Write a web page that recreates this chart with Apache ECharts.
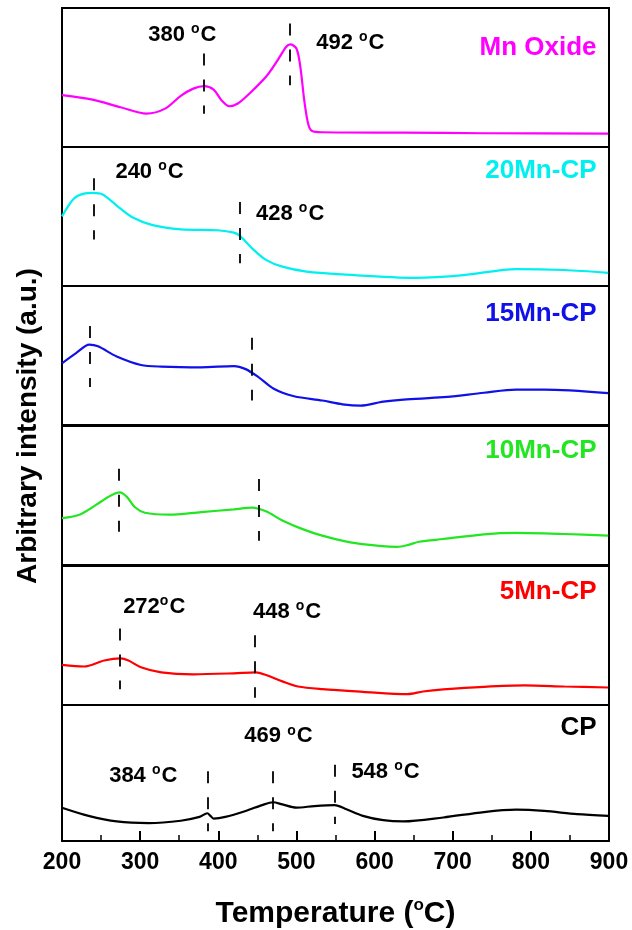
<!DOCTYPE html>
<html>
<head>
<meta charset="utf-8">
<script src="https://cdn.jsdelivr.net/npm/echarts/dist/echarts.min.js"></script>
<style>
html,body{margin:0;padding:0;background:#fff;}
#chart{width:632px;height:930px;}
</style>
</head>
<body>
<div id="chart"></div>
<script>
// ---- data (temperature in °C, intensity in arbitrary units 0-100 per panel) ----
const panelNames = ['Mn Oxide', '20Mn-CP', '15Mn-CP', '10Mn-CP', '5Mn-CP', 'CP'];
const panelColors = ['#ff00ff', '#00f0f0', '#1010e8', '#22e622', '#ff0000', '#000000'];

const tMnOxide = [200,239,275,308,332,352,368,382,394,404,414,425,440,461,476,487,492,500,505,510,515,520,533,636,740,899];
const vMnOxide = [37.3,34.1,28.6,24.0,27.6,36.8,42,43.8,41.3,33.7,29.3,31.3,38.5,50.5,62.5,72.1,73.8,70.9,57.7,33.7,16.8,11.5,10.6,10.3,9.9,9.6];

const t20Mn = [200,215,228,240,252,270,290,316,352,399,420,428,445,461,482,513,559,652,714,781,843,899];
const v20Mn = [50.1,62.8,66.5,67,65.8,57.9,49.4,43.8,40.8,40.1,38.4,35.9,26.2,18.8,13.9,10.3,8.3,5.9,7.8,12.2,11.5,9.5];

const t15Mn = [200,218,235,246,270,301,327,378,420,435,451,471,497,533,559,582,611,637,688,740,781,817,899];
const v15Mn = [44.4,51.7,57.8,56.6,49.3,43.2,42,41.5,42.4,40.2,34.6,26.1,20.7,17.6,14.9,13.9,16.8,18.3,20,23.2,25.4,25.4,22.9];

const t10Mn = [200,223,244,262,274,283,293,306,337,378,420,443,461,482,507,533,569,606,629,642,657,688,740,781,843,899];
const v10Mn = [33.7,36.4,43.4,49.8,52.2,49,41.7,37.6,36.2,38.1,40,41.3,38.6,32,26,21.1,16.3,13.8,13.1,14.3,16.7,18.7,22.1,23.1,22.3,21.1];

const t5Mn = [200,228,254,275,285,301,327,368,420,448,461,482,502,533,585,642,662,688,740,792,843,899];
const v5Mn = [28.9,27.7,32,33.5,32,27.2,23.5,22.1,22.8,23.5,21.6,17,13.3,11.4,9.5,7.8,9.7,11.2,13.1,14.1,13.3,12.6];

const tCP = [200,234,270,311,352,376,386,390,394,409,435,456,470,482,500,523,549,564,585,611,637,688,740,781,817,859,899];
const vCP = [24.5,18.5,14.4,13.2,14.9,17.7,20.4,18.5,16.5,17.7,22.1,26.4,28.5,26.9,24.5,25.7,26.4,23.3,18.5,15.3,14.4,17.3,21.3,23,22.1,19.7,18.5];

// dashed peak markers per panel: [temperature, top, bottom]
const peakMnOxide = [[381, 67.3, 24], [491, 88.9, 44.5]];
const peak20Mn = [[240, 77.5, 33.5], [428, 60.4, 16.4]];
const peak15Mn = [[236, 71.2, 27.3], [443, 62.7, 17.6]];
const peak10Mn = [[273, 69.2, 24], [452, 61.9, 17.5]];
const peak5Mn = [[274, 55.1, 11.4], [447, 50.2, 5.3]];
const peakCP = [[386, 51.3, 7.2], [470, 51.3, 7.2], [549, 56.1, 12.5]];

// peak annotations per panel: [x, y, number text, space before degree]
const noteMnOxide = [[354, 80.6, '380', true], [569, 74.8, '492', true]];
const note20Mn = [[312, 82, '240', true], [492, 51.8, '428', true]];
const note15Mn = [];
const note10Mn = [];
const note5Mn = [[318, 70.5, '272', false], [488, 66.9, '448', true]];
const noteCP = [[477, 77, '469', true], [304, 48.2, '384', true], [614, 51.1, '548', true]];

// panel name label anchor (right aligned)
const nameX = 884;
const nameY = [71.2, 82.7, 79.9, 82, 81.3, 83.5];

const xTicks = [200, 300, 400, 500, 600, 700, 800, 900];

// ---- build ----
const FONT = "'Liberation Sans', Arial, sans-serif";
const temps = [tMnOxide, t20Mn, t15Mn, t10Mn, t5Mn, tCP];
const vals = [vMnOxide, v20Mn, v15Mn, v10Mn, v5Mn, vCP];
const peaks = [peakMnOxide, peak20Mn, peak15Mn, peak10Mn, peak5Mn, peakCP];
const notes = [noteMnOxide, note20Mn, note15Mn, note10Mn, note5Mn, noteCP];

const tops = [8, 147, 286, 426, 566, 705];
const panelH = 139;

const grids = [], xAxes = [], yAxes = [], series = [];
const richDeg = {
  a: {fontSize: 22, fontWeight: 'bold', color: '#000', fontFamily: FONT, lineHeight: 25},
  s: {fontSize: 14, fontWeight: 'bold', color: '#000', fontFamily: FONT, verticalAlign: 'top', padding: [0, 1, 0, 0]}
};

for (let i = 0; i < 6; i++) {
  const last = i === 5;
  grids.push({left: 62, right: 23, top: tops[i], height: panelH, show: true,
    borderColor: '#000', borderWidth: 2, backgroundColor: 'transparent'});
  xAxes.push({
    type: 'value', gridIndex: i, min: 200, max: 900, interval: 100,
    show: last,
    axisLine: {show: true, lineStyle: {color: '#000', width: 2}},
    axisTick: {show: true, inside: true, length: 10, lineStyle: {color: '#000', width: 2}},
    minorTick: {show: true, splitNumber: 2, length: 6, lineStyle: {color: '#000', width: 1.5}},
    splitLine: {show: false},
    axisLabel: {show: true, margin: 10, fontSize: 23, fontWeight: 'bold', color: '#000', fontFamily: FONT,
      formatter: v => xTicks.indexOf(v) >= 0 ? String(v) : ''},
    name: last ? '{a|Temperature (}{s|o}{a|C)}' : '',
    nameLocation: 'middle', nameGap: 56,
    nameTextStyle: {rich: {
      a: {fontSize: 30, fontWeight: 'bold', color: '#000', fontFamily: FONT, lineHeight: 34},
      s: {fontSize: 17, fontWeight: 'bold', color: '#000', fontFamily: FONT, verticalAlign: 'top'}
    }}
  });
  yAxes.push({type: 'value', gridIndex: i, min: 0, max: 100, show: false});

  const data = temps[i].map((t, k) => [t, vals[i][k]]);
  const mlData = peaks[i].map(p => [{coord: [p[0], p[1]]}, {coord: [p[0], p[2]]}]);
  const mpData = notes[i].map(n => ({
    coord: [n[0], n[1]],
    label: {formatter: '{a|' + n[2] + (n[3] ? ' ' : '') + '}{s|o}{a|C}'}
  }));
  mpData.push({
    coord: [nameX, nameY[i]],
    label: {formatter: panelNames[i], align: 'right', fontSize: 26, fontWeight: 'bold',
      color: panelColors[i], fontFamily: FONT, rich: {}}
  });

  series.push({
    type: 'line', xAxisIndex: i, yAxisIndex: i, data: data,
    showSymbol: false, smooth: 0.3,
    lineStyle: {color: panelColors[i], width: 2.2},
    itemStyle: {color: panelColors[i]},
    animation: false, silent: true,
    markLine: {
      silent: true, animation: false, symbol: ['none', 'none'],
      label: {show: false},
      lineStyle: {color: '#000', width: 1.8, type: [12, 14]},
      emphasis: {disabled: true},
      data: mlData
    },
    markPoint: {
      silent: true, animation: false, symbol: 'circle', symbolSize: 1,
      itemStyle: {color: 'rgba(0,0,0,0)'},
      label: {show: true, position: 'inside', rich: richDeg},
      data: mpData
    }
  });
}

// invisible full-height grid carrying the shared y-axis title
grids.push({left: 62, right: 23, top: 8, height: 836, show: false});
xAxes.push({type: 'value', gridIndex: 6, min: 0, max: 1, show: false});
yAxes.push({
  type: 'value', gridIndex: 6, min: 0, max: 1, show: true,
  axisLine: {show: false}, axisTick: {show: false}, axisLabel: {show: false}, splitLine: {show: false},
  name: 'Arbitrary intensity (a.u.)', nameLocation: 'middle', nameGap: 20,
  nameTextStyle: {fontSize: 28, fontWeight: 'bold', color: '#000', fontFamily: FONT}
});

const chart = echarts.init(document.getElementById('chart'), null, {renderer: 'canvas'});
chart.setOption({
  backgroundColor: '#ffffff',
  animation: false,
  grid: grids, xAxis: xAxes, yAxis: yAxes, series: series
});
</script>
</body>
</html>
